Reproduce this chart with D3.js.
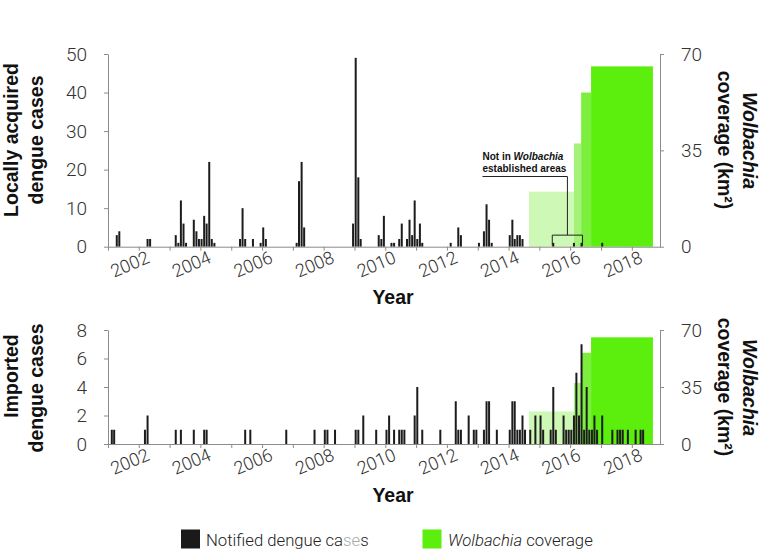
<!DOCTYPE html>
<html>
<head>
<meta charset="utf-8">
<script src="https://cdn.jsdelivr.net/npm/d3@7"></script>
<style>
body { margin: 0; background: #fff; }
svg { display: block; }
</style>
</head>
<body>
<svg id="chart" width="765" height="551"></svg>
<script>
// Monthly notified cases, locally acquired
let localDates = ["2001-04","2001-05","2002-04","2002-05",
    "2003-03","2003-04","2003-05","2003-06","2003-07","2003-10","2003-11","2003-12",
    "2004-01","2004-02","2004-03","2004-04","2004-05","2004-06",
    "2005-04","2005-05","2005-06","2005-09","2005-12","2006-01","2006-02",
    "2007-02","2007-03","2007-04","2007-05","2008-12","2009-01","2009-02","2009-03",
    "2009-10","2009-11","2009-12","2010-03","2010-04","2010-06","2010-07","2010-09",
    "2010-10","2010-11","2010-12","2011-01","2011-02","2011-03",
    "2012-02","2012-05","2012-06","2013-01","2013-03","2013-04","2013-05","2013-06",
    "2014-01","2014-02","2014-03","2014-04","2014-05","2014-06",
    "2015-06","2016-02","2016-05","2017-01"]
let localCases = [3,4,2,2,
    3,1,12,6,1,7,4,2,
    2,8,6,22,2,1,
    2,10,2,2,1,5,2,
    1,17,22,5,6,49,18,2,
    3,2,8,1,1,2,6,2,
    7,3,12,2,6,1,
    1,5,3,1,4,11,7,1,
    3,7,2,3,3,2,
    1,1,1,1]

// Monthly notified cases, imported
let importedDates = ["2001-02","2001-03","2002-03","2002-04","2003-03","2003-05","2003-10",
    "2004-02","2004-03","2005-06","2005-08","2006-10","2007-09","2008-01","2008-02","2008-05",
    "2009-01","2009-02","2009-04","2009-09",
    "2010-01","2010-02","2010-04","2010-06","2010-07","2010-08","2010-12",
    "2011-01","2011-03","2011-10","2012-04","2012-05","2012-06","2012-09","2012-11","2012-12",
    "2013-03","2013-04","2013-05","2013-08",
    "2014-01","2014-02","2014-03","2014-04","2014-05","2014-06","2014-07","2014-09","2014-11",
    "2015-01","2015-02","2015-05","2015-06","2015-07","2015-10","2015-11","2015-12",
    "2016-01","2016-02","2016-03","2016-04","2016-05","2016-06","2016-07","2016-08","2016-09","2016-10","2016-11",
    "2017-01","2017-05","2017-07","2017-08","2017-09","2017-11",
    "2018-02","2018-04","2018-05"]
let importedCases = [1,1,1,2,1,1,1,
    1,1,1,1,1,1,1,1,1,
    1,1,2,1,
    1,2,1,1,1,1,2,
    4,1,1,3,1,1,2,1,1,
    1,3,3,1,
    1,3,3,1,1,2,1,1,2,
    2,1,1,4,1,2,1,1,
    1,2,5,2,7,1,4,1,1,2,1,
    2,1,1,1,1,1,
    1,1,1]

// Wolbachia coverage (km2), release steps
let coverageStart = ["2014-09-01","2016-02-15","2016-05-10","2016-09-05"]
let coverageEnd = ["2016-02-15","2016-05-10","2016-09-05","2018-09-08"]
let coverageKm2 = [20, 37.5, 56, 65.5]

// Local cases outside the release areas
let notInAreaDates = ["2015-06","2016-02","2016-05"]

let localTicks = [0,10,20,30,40,50]
let importedTicks = [0,2,4,6,8]
let coverageTicks = [0,35,70]
let yearTicks = d3.range(2001, 2019)
let labelYears = [2002,2004,2006,2008,2010,2012,2014,2016,2018]

// Global settings
let barColor = "#1c1c1c"
let axisColor = "#8c8c8c"
let greens = ["#cef8b5","#a5f27a","#7cee3d","#5cee0c"]
let lightFont = "Roboto, 'Liberation Sans', Arial, sans-serif"
let boldFont = "'Liberation Sans', Arial, Helvetica, sans-serif"

let parseMonth = d3.timeParse("%Y-%m")
let parseDay = d3.timeParse("%Y-%m-%d")
let midMonth = s => d3.timeDay.offset(parseMonth(s), 14)

let x = d3.scaleTime()
    .domain([new Date(2001,0,1), new Date(2018,11,1)])
    .range([108, 660])

function styleAxis(g) {
    g.attr("font-family", lightFont).attr("font-size", 19).attr("font-weight", 300)
    g.selectAll("path, line").attr("stroke", axisColor)
    g.selectAll("text").attr("fill", "#333")
}

function renderPanel(svg, p) {
    let y = d3.scaleLinear().domain([0, p.yMax]).range([p.y0, p.y1])
    let yCov = d3.scaleLinear().domain([0, 70]).range([p.y0, p.y1])
    let g = svg.append("g")

    // Coverage steps
    g.selectAll("rect.cov")
        .data(coverageKm2)
        .enter()
        .append("rect")
        .attr("x", (d,i) => x(parseDay(coverageStart[i])))
        .attr("width", (d,i) => x(parseDay(coverageEnd[i])) - x(parseDay(coverageStart[i])))
        .attr("y", d => yCov(d))
        .attr("height", d => p.y0 - yCov(d))
        .attr("fill", (d,i) => greens[i])

    // Monthly case bars
    let bw = 2
    g.selectAll("rect.bar")
        .data(p.cases)
        .enter()
        .append("rect")
        .attr("x", (d,i) => x(midMonth(p.dates[i])) - bw/2)
        .attr("width", bw)
        .attr("y", d => y(d))
        .attr("height", d => p.y0 - y(d))
        .attr("fill", barColor)

    // Axes
    g.append("g")
        .attr("transform", `translate(0,${p.y0})`)
        .call(d3.axisBottom(x)
            .tickValues(yearTicks.map(v => new Date(v,0,1)))
            .tickSize(4).tickSizeOuter(0).tickFormat(""))
        .call(styleAxis)

    g.append("g")
        .attr("transform", "translate(108,0)")
        .call(d3.axisLeft(y).tickValues(p.ticks).tickSize(4).tickPadding(17).tickSizeOuter(0))
        .call(styleAxis)

    g.append("g")
        .attr("transform", "translate(660,0)")
        .call(d3.axisRight(yCov).tickValues(coverageTicks).tickSize(4).tickPadding(17).tickSizeOuter(0))
        .call(styleAxis)

    g.selectAll("text.year")
        .data(labelYears)
        .enter()
        .append("text")
        .attr("transform", d => `translate(${x(new Date(d,0,1)) - 9},${p.y0 + 17.5}) rotate(-23)`)
        .attr("text-anchor", "middle")
        .attr("dy", "0.35em")
        .attr("font-family", lightFont)
        .attr("font-weight", 300)
        .attr("font-size", 18)
        .attr("fill", "#333")
        .text(d => d)

    // Titles
    let title = (tx, ty, rot, txt, italic) => g.append("text")
        .attr("transform", `translate(${tx},${ty}) rotate(${rot})`)
        .attr("text-anchor", "middle")
        .attr("dy", rot ? "0.35em" : 0)
        .attr("font-family", boldFont)
        .attr("font-weight", "bold")
        .attr("font-style", italic ? "italic" : "normal")
        .attr("font-size", 19.5)
        .attr("fill", "#111")
        .text(txt)

    title(11, p.t1y, -90, p.title[0])
    title(36, p.t2y, -90, p.title[1])
    title(749.5, p.cy + 0.5, 90, "Wolbachia", true)
    title(725, p.cy, 90, "coverage (km²)")
    title(393, p.yearY, 0, "Year")

    return y
}

let svg = d3.select("#chart")
svg.append("rect").attr("width", 765).attr("height", 551).attr("fill", "#fff")

let yLocal = renderPanel(svg, {
    dates: localDates, cases: localCases, yMax: 50, ticks: localTicks,
    y0: 246.7, y1: 54, title: ["Locally acquired", "dengue cases"],
    t1y: 140, t2y: 140, cy: 140, yearY: 304
})

renderPanel(svg, {
    dates: importedDates, cases: importedCases, yMax: 8, ticks: importedTicks,
    y0: 444, y1: 330, title: ["Imported", "dengue cases"],
    t1y: 376, t2y: 388, cy: 387, yearY: 501.5
})

// Annotation: local cases outside release areas
let bx0 = x(midMonth(notInAreaDates[0])) - 1
let bx1 = x(midMonth(notInAreaDates[notInAreaDates.length - 1])) + 1
let bTop = yLocal(3)
let bMid = (bx0 + bx1) / 2
let note = svg.append("g").attr("font-family", boldFont).attr("font-weight", "bold").attr("font-size", 10).attr("fill", "#111")
let line1 = note.append("text").attr("x", 482.5).attr("y", 160)
line1.append("tspan").text("Not in ")
line1.append("tspan").attr("font-style", "italic").text("Wolbachia")
note.append("text").attr("x", 482.5).attr("y", 171.5).text("established areas")
note.append("path")
    .attr("d", `M482.5,176.5H${bMid}V${bTop}M${bx0},${yLocal(0) - 1}V${bTop}H${bx1}V${yLocal(0) - 1}`)
    .attr("fill", "none")
    .attr("stroke", "#222")
    .attr("stroke-width", 1)

// Legend
let legend = svg.append("g").attr("font-family", lightFont).attr("font-weight", 300).attr("font-size", 16.7).attr("fill", "#222")
legend.append("rect").attr("x", 181).attr("y", 529.5).attr("width", 19).attr("height", 19).attr("fill", "#1a1a1a")
let lt = legend.append("text").attr("x", 206).attr("y", 546)
lt.append("tspan").text("Notified dengue ca")
lt.append("tspan").attr("fill", "#aaa").text("se")
lt.append("tspan").text("s")
legend.append("rect").attr("x", 422.5).attr("y", 529.5).attr("width", 19).attr("height", 19).attr("fill", greens[3])
let gt = legend.append("text").attr("x", 448).attr("y", 546)
gt.append("tspan").attr("font-style", "italic").text("Wolbachia")
gt.append("tspan").text(" coverage")
</script>
</body>
</html>
